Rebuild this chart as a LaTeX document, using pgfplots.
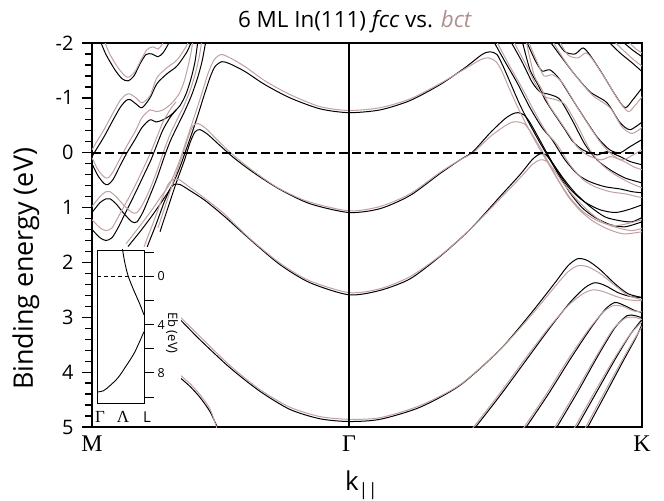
\documentclass[border=0pt]{standalone}
\usepackage{pgfplots}
\pgfplotsset{compat=1.18}
\usepackage{fontspec}
\setmainfont{Open Sans}
\newfontfamily\serifgr{Liberation Serif}
\definecolor{bct}{RGB}{192,160,160}
\definecolor{bcttitle}{RGB}{178,142,142}
\pgfplotsset{
  fcc/.style={black, line width=1.0pt, smooth, tension=0.45, mark=none},
  bctl/.style={bct, line width=1.0pt, smooth, tension=0.45, mark=none},
}
\begin{document}
\begin{tikzpicture}
\useasboundingbox (-92bp,-74bp) rectangle (572bp,427bp);
\begin{axis}[
  at={(0bp,0bp)}, anchor=south west,
  width=550bp, height=384bp, scale only axis,
  xmin=0, xmax=550, ymin=-2, ymax=5, y dir=reverse,
  axis line style={line width=1.5pt},
  xtick={0,257,550},
  xticklabels={M,Γ,K},
  xticklabel style={font=\serifgr\fontsize{24}{24}\selectfont, anchor=north, yshift=5bp},
  x tick style={draw=none},
  ytick={-2,-1,0,1,2,3,4,5},
  yticklabels={-2,-1,0,1,2,3,4,5},
  minor y tick num=4,
  ytick pos=left, xtick pos=bottom,
  tick align=outside,
  major tick length=10bp, minor tick length=6.5bp,
  y tick style={line width=1.3pt, black},
  yticklabel style={font=\fontsize{20}{20}\selectfont, anchor=east, xshift=-5bp},
]
% ---------- fcc (black) ----------
\addplot[fcc] coordinates {(36,1.71) (48,1.44) (60,1.15) (71,0.86) (80,0.60) (88,0.26) (94,-0.05) (100,-0.36) (106,-0.69) (112,-1.04) (118,-1.37) (123,-1.57) (130,-1.66) (138,-1.62) (153,-1.48) (173,-1.24) (198,-1.00) (228,-0.80) (257,-0.73) (288,-0.78) (318,-0.95) (348,-1.24) (373,-1.55) (390,-1.79) (398,-1.84) (405,-1.79) (411,-1.58) (418,-1.29) (428,-0.87) (438,-0.51) (448,-0.18) (458,0.13) (468,0.44) (478,0.73) (490,1.00) (503,1.18) (518,1.31) (533,1.35) (550,1.26)};
\addplot[fcc] coordinates {(68,1.44) (76,1.00) (84,0.56) (92,0.16) (98,-0.18) (103,-0.38) (108,-0.42) (116,-0.33) (128,-0.13) (143,0.11) (163,0.38) (188,0.67) (218,0.93) (257,1.09) (288,1.02) (318,0.78) (348,0.38) (368,0.13) (381,-0.02) (398,-0.36) (413,-0.62) (421,-0.71) (426,-0.73) (432,-0.69) (438,-0.55) (446,-0.29) (456,0.04) (466,0.35) (478,0.66) (492,0.89) (508,1.04) (523,1.09) (536,1.04) (550,0.95)};
\addplot[fcc] coordinates {(48,2.09) (56,1.68) (64,1.31) (72,0.91) (78,0.67) (82,0.58) (88,0.58) (98,0.69) (113,0.87) (133,1.17) (158,1.58) (188,2.04) (218,2.37) (257,2.59) (288,2.51) (318,2.30) (348,1.89) (378,1.40) (408,0.80) (428,0.40) (440,0.13) (448,0.02) (454,0.04) (461,0.20) (471,0.46) (483,0.73) (498,0.98) (513,1.17) (528,1.24) (540,1.26) (550,1.18)};
\addplot[fcc] coordinates {(48,2.37) (68,2.68) (88,3.04) (108,3.41) (138,3.92) (168,4.35) (198,4.68) (228,4.85) (257,4.90) (288,4.86) (328,4.64) (368,4.24) (408,3.59) (438,2.95) (463,2.37) (476,2.06) (486,1.93) (496,1.97) (508,2.13) (523,2.39) (536,2.57) (550,2.64)};
\addplot[fcc] coordinates {(381,5.06) (408,4.43) (433,3.81) (458,3.19) (478,2.73) (493,2.46) (503,2.37) (513,2.42) (526,2.55) (538,2.62) (550,2.64)};
\addplot[fcc] coordinates {(432,5.06) (456,4.41) (478,3.77) (498,3.22) (513,2.86) (523,2.73) (533,2.79) (543,2.88) (550,2.91)};
\addplot[fcc] coordinates {(463,5.06) (486,4.35) (506,3.70) (523,3.19) (535,2.97) (543,2.97) (550,3.01)};
\addplot[fcc] coordinates {(483,5.06) (505,4.35) (523,3.77) (538,3.32) (550,3.04)};
\addplot[fcc] coordinates {(494,5.06) (515,4.35) (532,3.77) (544,3.37) (550,3.13)};
\addplot[fcc] coordinates {(88,4.10) (98,4.26) (108,4.46) (118,4.72) (126,5.03)};
\addplot[fcc] coordinates {(401,-2.05) (413,-1.66) (425,-1.28) (438,-0.82) (450,-0.46) (460,-0.24) (473,0.13) (486,0.40) (498,0.53) (513,0.62) (528,0.66) (540,0.71) (550,0.73)};
\addplot[fcc] coordinates {(418,-2.05) (430,-1.66) (440,-1.29) (448,-1.11) (458,-1.06) (468,-0.97) (480,-0.60) (493,-0.15) (505,0.13) (518,0.31) (533,0.46) (550,0.55)};
\addplot[fcc] coordinates {(434,-2.05) (443,-1.69) (450,-1.49) (458,-1.51) (468,-1.33) (485,-0.84) (505,-0.29) (518,-0.05) (528,0.00) (538,-0.11) (550,-0.24)};
\addplot[fcc] coordinates {(457,-2.05) (470,-1.73) (483,-1.42) (498,-1.11) (515,-0.91) (528,-0.55) (538,-0.42) (550,-0.56)};
\addplot[fcc] coordinates {(464,-2.05) (473,-1.84) (483,-1.80) (491,-1.91) (498,-1.78) (511,-1.42) (523,-1.06) (533,-0.82) (541,-0.97) (550,-1.18)};
\addplot[fcc] coordinates {(515,-2.05) (528,-1.82) (540,-1.64) (550,-1.48)};
\addplot[fcc] coordinates {(529,-2.05) (540,-1.88) (550,-1.75)};
\addplot[fcc] coordinates {(430,-2.05) (438,-1.51) (446,-1.24) (453,-0.97) (463,-0.69) (473,-0.42) (481,-0.20) (491,-0.05) (505,0.04) (515,-0.02) (528,0.07) (538,0.16) (550,0.22)};
\addplot[fcc] coordinates {(8,-2.05) (14,-1.79) (23,-1.51) (30,-1.35) (36,-1.31) (42,-1.40) (48,-1.62) (54,-1.79) (60,-1.80) (66,-1.75) (71,-1.82) (76,-1.97) (78,-2.05)};
\addplot[fcc] coordinates {(0,0.07) (4,-0.05) (12,-0.29) (20,-0.56) (28,-0.82) (34,-0.95) (38,-0.97) (44,-0.89) (50,-0.82) (58,-1.00) (65,-1.26) (75,-1.44) (85,-1.58) (95,-1.84) (100,-2.05)};
\addplot[fcc] coordinates {(0,0.20) (6,0.42) (12,0.56) (16,0.58) (21,0.49) (28,0.24) (35,0.00) (43,-0.24) (50,-0.46) (58,-0.60) (64,-0.56) (71,-0.60) (79,-0.69) (88,-0.86) (94,-1.07) (99,-1.35) (103,-1.66) (106,-2.05)};
\addplot[fcc] coordinates {(0,1.09) (8,0.91) (14,0.84) (18,0.84) (24,0.93) (32,1.11) (40,1.26) (45,1.26) (51,1.08) (58,0.78) (65,0.46) (72,0.09) (78,-0.20) (85,-0.47) (92,-0.73) (99,-1.02) (105,-1.33) (110,-1.66) (114,-2.05)};
\addplot[fcc] coordinates {(0,1.40) (8,1.55) (14,1.60) (20,1.55) (26,1.37) (32,1.15) (38,0.93) (45,0.67) (52,0.40) (59,0.13) (65,-0.15) (71,-0.42) (78,-0.64) (84,-0.78)};
% ---------- bct (pink) ----------
\addplot[bctl] coordinates {(34,1.66) (46,1.38) (58,1.09) (69,0.80) (78,0.56) (86,0.22) (92,-0.09) (98,-0.42) (104,-0.75) (110,-1.09) (116,-1.44) (122,-1.69) (129,-1.79) (138,-1.73) (153,-1.57) (173,-1.31) (198,-1.06) (228,-0.84) (257,-0.77) (288,-0.82) (318,-0.98) (348,-1.26) (373,-1.53) (388,-1.69) (396,-1.73) (404,-1.66) (410,-1.48) (417,-1.18) (427,-0.78) (437,-0.42) (447,-0.09) (457,0.22) (467,0.53) (477,0.82) (489,1.07) (502,1.26) (517,1.40) (532,1.48) (550,1.44)};
\addplot[bctl] coordinates {(66,1.37) (74,0.93) (82,0.49) (90,0.07) (96,-0.27) (101,-0.49) (106,-0.53) (114,-0.44) (126,-0.22) (141,0.04) (161,0.33) (186,0.64) (216,0.89) (257,1.06) (288,0.98) (318,0.75) (348,0.36) (368,0.13) (381,0.00) (398,-0.29) (413,-0.49) (421,-0.56) (426,-0.56) (432,-0.53) (438,-0.40) (446,-0.16) (456,0.16) (466,0.49) (478,0.82) (492,1.09) (508,1.26) (523,1.33) (536,1.29) (550,1.22)};
\addplot[bctl] coordinates {(46,2.04) (54,1.62) (62,1.24) (70,0.84) (76,0.58) (81,0.49) (87,0.49) (97,0.62) (112,0.82) (132,1.11) (157,1.55) (187,2.00) (217,2.33) (257,2.55) (288,2.48) (318,2.26) (348,1.88) (378,1.40) (408,0.84) (428,0.46) (440,0.22) (448,0.13) (454,0.15) (461,0.29) (471,0.55) (483,0.82) (498,1.09) (513,1.29) (528,1.38) (540,1.42) (550,1.38)};
\addplot[bctl] coordinates {(48,2.31) (68,2.62) (88,2.99) (108,3.35) (138,3.88) (168,4.32) (198,4.64) (228,4.81) (257,4.86) (288,4.83) (328,4.61) (368,4.23) (408,3.59) (438,2.99) (463,2.44) (476,2.17) (486,2.06) (496,2.08) (508,2.20) (523,2.42) (536,2.60) (550,2.68)};
\addplot[bctl] coordinates {(379,5.06) (406,4.43) (431,3.81) (456,3.21) (476,2.79) (491,2.57) (501,2.50) (511,2.53) (524,2.62) (536,2.68) (550,2.70)};
\addplot[bctl] coordinates {(430,5.06) (454,4.41) (476,3.77) (496,3.24) (511,2.91) (521,2.79) (531,2.80) (541,2.88) (550,2.90)};
\addplot[bctl] coordinates {(461,5.06) (484,4.35) (504,3.72) (521,3.22) (533,3.02) (542,3.00) (550,3.04)};
\addplot[bctl] coordinates {(481,5.06) (503,4.35) (521,3.79) (537,3.34) (550,3.08)};
\addplot[bctl] coordinates {(492,5.06) (513,4.35) (530,3.79) (542,3.41) (550,3.17)};
\addplot[bctl] coordinates {(88,4.05) (98,4.21) (108,4.41) (118,4.67) (125,5.03)};
\addplot[bctl] coordinates {(404,-2.05) (408,-1.91) (418,-1.57) (430,-1.18) (443,-0.73) (455,-0.36) (465,-0.15) (478,0.22) (491,0.49) (503,0.62) (518,0.71) (533,0.75) (545,0.80) (550,0.82)};
\addplot[bctl] coordinates {(421,-2.05) (425,-1.91) (435,-1.57) (445,-1.20) (453,-1.02) (463,-0.97) (473,-0.88) (485,-0.51) (498,-0.05) (510,0.22) (523,0.40) (538,0.55) (550,0.64)};
\addplot[bctl] coordinates {(436,-2.05) (445,-1.66) (452,-1.40) (461,-1.42) (471,-1.26) (488,-0.75) (508,-0.20) (521,0.05) (531,0.13) (541,0.04) (550,-0.05)};
\addplot[bctl] coordinates {(460,-2.05) (473,-1.67) (486,-1.35) (501,-1.04) (518,-0.82) (530,-0.47) (540,-0.35) (550,-0.46)};
\addplot[bctl] coordinates {(467,-2.05) (476,-1.78) (486,-1.73) (494,-1.82) (501,-1.69) (514,-1.33) (526,-0.97) (536,-0.75) (543,-0.86) (550,-1.02)};
\addplot[bctl] coordinates {(521,-2.05) (534,-1.82) (544,-1.66) (550,-1.58)};
\addplot[bctl] coordinates {(535,-2.05) (544,-1.89) (550,-1.82)};
\addplot[bctl] coordinates {(434,-2.05) (442,-1.42) (450,-1.15) (457,-0.87) (467,-0.60) (477,-0.33) (485,-0.11) (495,0.04) (509,0.13) (519,0.07) (532,0.16) (542,0.26) (550,0.31)};
\addplot[bctl] coordinates {(12,-2.05) (18,-1.79) (26,-1.55) (33,-1.40) (37,-1.38) (43,-1.48) (49,-1.69) (55,-1.88) (61,-1.93) (66,-1.89) (70,-1.97) (72,-2.05)};
\addplot[bctl] coordinates {(0,-0.05) (4,-0.18) (12,-0.42) (20,-0.69) (28,-0.95) (34,-1.06) (38,-1.07) (44,-1.00) (50,-0.91) (58,-1.04) (65,-1.37) (75,-1.55) (85,-1.69) (94,-1.93) (97,-2.05)};
\addplot[bctl] coordinates {(0,0.09) (6,0.31) (12,0.44) (16,0.46) (21,0.35) (28,0.11) (35,-0.13) (43,-0.38) (50,-0.64) (58,-0.78) (64,-0.75) (71,-0.78) (79,-0.89) (87,-1.07) (92,-1.29) (96,-1.57) (99,-1.82) (101,-2.05)};
\addplot[bctl] coordinates {(0,0.98) (8,0.80) (14,0.71) (18,0.71) (24,0.80) (32,0.96) (40,1.09) (45,1.09) (51,0.93) (58,0.66) (65,0.33) (72,-0.04) (78,-0.33) (85,-0.60) (92,-0.86) (98,-1.13) (103,-1.42) (107,-1.73) (110,-2.05)};
\addplot[bctl] coordinates {(0,1.22) (8,1.37) (14,1.42) (20,1.37) (26,1.18) (32,0.98) (38,0.78) (45,0.53) (52,0.26) (59,-0.02) (65,-0.29) (71,-0.56) (78,-0.78) (84,-0.93)};
% ---------- white patch behind inset, Fermi level, Gamma line ----------
\fill[white] (axis cs:2,1.71) rectangle (axis cs:89,4.88);
\addplot[black, line width=2.2pt, dash pattern=on 9bp off 4bp, mark=none] coordinates {(0,0) (550,0)};
\addplot[black, line width=2pt, mark=none] coordinates {(257,-2) (257,5)};
\end{axis}
% inset
\begin{axis}[
  at={(5bp,24bp)}, anchor=south west,
  width=47bp, height=153bp, scale only axis,
  xmin=0, xmax=1, ymin=-2.2, ymax=10.5, y dir=reverse,
  axis background/.style={fill=white},
  axis line style={line width=0.8pt},
  xtick=\empty,
  ytick={-2,0,2,4,6,8,10}, yticklabels={,0,,4,,8,},
  ytick pos=right, yticklabel pos=right,
  tick align=outside, major tick length=10bp,
  y tick style={line width=0.8pt, black},
  yticklabel style={font=\fontsize{12.5}{12.5}\selectfont, anchor=west},
]
\addplot[black, line width=0.9pt, dash pattern=on 4bp off 3bp, mark=none] coordinates {(0,0) (1,0)};
\addplot[black, line width=0.9pt, smooth, mark=none] coordinates {(0.54,-2.31) (0.59,-1.19) (0.66,-0.08) (0.77,1.03) (0.91,2.28) (1.0,3.19)};
\addplot[black, line width=0.9pt, smooth, mark=none] coordinates {(0,9.58) (0.13,9.50) (0.27,9.08) (0.45,8.39) (0.62,7.42) (0.80,6.30) (1.0,4.58)};
\end{axis}
\node[font=\serifgr\fontsize{17}{17}\selectfont, anchor=base] at (8bp,5bp) {Γ};
\node[font=\serifgr\fontsize{17}{17}\selectfont, anchor=base] at (31bp,5bp) {Λ};
\node[font=\fontsize{15}{15}\selectfont, anchor=base] at (55bp,5bp) {L};
\node[rotate=-90, font=\fontsize{13}{13}\selectfont] at (80bp,94bp) {Eb (eV)};
% titles and labels
\node[anchor=base, font=\fontsize{22.5}{22.5}\selectfont] at (263bp,399bp) {6 ML In(111) \textit{fcc} vs. \textcolor{bcttitle}{\textit{bct}}};
\node[rotate=90, font=\fontsize{27}{27}\selectfont] at (-66bp,158bp) {Binding energy (eV)};
\node[anchor=base west, inner sep=0pt, font=\fontsize{26}{26}\selectfont] at (253bp,-63bp) {k\raisebox{-5bp}{\fontsize{17}{17}\selectfont ||}};
\end{tikzpicture}
\end{document}
